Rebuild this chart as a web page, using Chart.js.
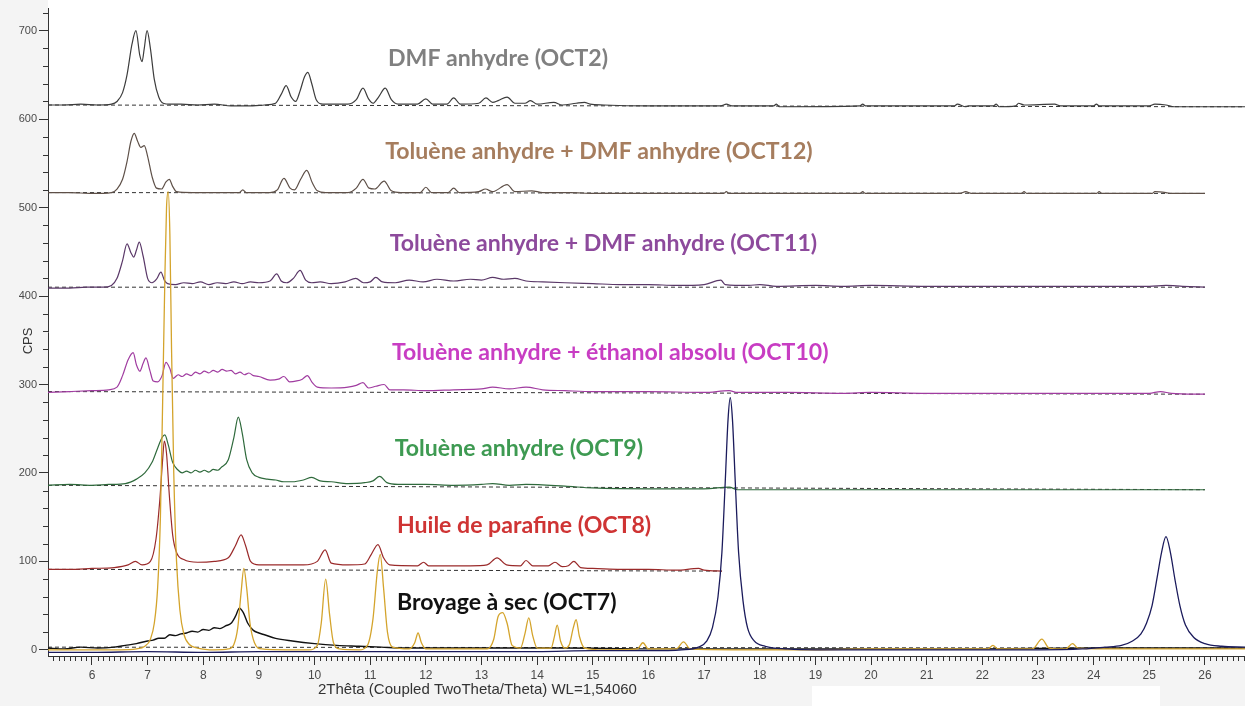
<!DOCTYPE html>
<html><head><meta charset="utf-8">
<script src="https://cdn.jsdelivr.net/npm/chart.js@4.4.1/dist/chart.umd.min.js"></script>
<style>html,body{margin:0;padding:0;background:#f4f4f4;overflow:hidden}#wrap{width:1245px;height:706px;position:relative}</style>
</head><body><div id="wrap"><canvas id="c" width="1245" height="706"></canvas></div>
<script>
// ---------- DATA (2Theta, CPS) ----------
const seriesNames = ["DMF anhydre (OCT2)","Toluène anhydre + DMF anhydre (OCT12)","Toluène anhydre + DMF anhydre (OCT11)","Toluène anhydre + éthanol absolu (OCT10)","Toluène anhydre (OCT9)","Huile de parafine (OCT8)","Broyage à sec (OCT7)"];

const oct2 = [[5.21,616],[5.5,616],[5.8,617],[6.1,616],[6.35,617],[6.45,620],[6.55,630],[6.63,650],[6.72,685],[6.79,700],[6.86,672],[6.9,665],[6.94,680],[6.99,700],[7.05,680],[7.12,645],[7.2,625],[7.28,618],[7.4,617],[7.6,617],[7.9,616],[8.2,617],[8.5,615],[8.8,615],[9.1,616],[9.3,618],[9.4,628],[9.49,638],[9.58,625],[9.66,620],[9.74,632],[9.82,648],[9.88,653],[9.95,640],[10.03,622],[10.15,617],[10.6,617],[10.75,622],[10.87,635],[10.97,623],[11.05,618],[11.15,625],[11.27,635],[11.38,622],[11.5,617],[11.85,617],[12.0,623],[12.12,617],[12.38,617],[12.5,624],[12.62,617],[12.95,618],[13.08,624],[13.2,619],[13.3,621],[13.46,625],[13.6,618],[13.78,618],[13.88,621],[14.0,617],[14.3,619],[14.45,616],[14.7,618],[14.85,619],[14.95,617],[15.2,616],[16.0,615],[17.3,615],[17.4,617],[17.5,615],[18.25,615],[18.3,617],[18.35,614],[19.8,615],[19.85,617],[19.9,615],[21.5,615],[21.55,617],[21.7,614],[21.75,615],[22.2,615],[22.25,617],[22.3,614],[22.6,615],[22.65,618],[22.75,616],[23.3,617],[23.4,615],[24.0,615],[24.05,617],[24.1,615],[25.0,615],[25.1,617],[25.3,616],[25.45,614],[26.0,614],[26.72,614]];

const oct12 = [[5.21,517],[5.6,517],[6.0,516],[6.35,517],[6.45,521],[6.55,532],[6.63,552],[6.7,575],[6.76,584],[6.82,575],[6.88,568],[6.94,570],[7.0,558],[7.08,535],[7.16,522],[7.25,521],[7.33,529],[7.39,532],[7.45,524],[7.52,518],[7.8,517],[8.3,517],[8.65,517],[8.71,520],[8.77,517],[9.2,517],[9.33,520],[9.45,533],[9.56,522],[9.64,520],[9.75,532],[9.86,542],[9.96,528],[10.05,519],[10.2,517],[10.6,517],[10.75,522],[10.87,532],[10.98,522],[11.08,521],[11.25,530],[11.38,519],[11.55,517],[11.9,517],[12.0,523],[12.1,517],[12.4,517],[12.5,522],[12.6,517],[12.95,518],[13.07,521],[13.2,518],[13.46,526],[13.6,518],[13.9,519],[14.1,517],[14.6,517],[15.0,516],[17.35,516],[17.4,518],[17.45,516],[19.8,516],[19.85,518],[19.9,516],[21.6,516],[21.7,518],[21.8,516],[22.7,516],[22.75,518],[22.8,516],[24.05,516],[24.1,518],[24.15,516],[25.05,516],[25.1,518],[25.3,517],[25.4,516],[26.0,516]];

const oct11 = [[5.21,409],[5.6,409],[5.9,410],[6.2,410],[6.35,412],[6.45,420],[6.55,440],[6.63,459],[6.7,449],[6.75,444],[6.8,452],[6.85,461],[6.92,445],[7.0,420],[7.08,415],[7.16,419],[7.24,427],[7.3,418],[7.36,414],[7.5,413],[7.65,415],[7.8,414],[7.95,416],[8.1,413],[8.25,415],[8.4,414],[8.55,416],[8.7,414],[8.85,416],[9.0,415],[9.2,417],[9.32,425],[9.4,417],[9.5,415],[9.62,420],[9.74,429],[9.84,418],[9.95,415],[10.1,416],[10.3,414],[10.55,416],[10.74,420],[10.88,415],[11.0,416],[11.1,421],[11.22,416],[11.45,415],[11.7,418],[11.95,416],[12.2,419],[12.5,417],[12.8,419],[13.0,418],[13.2,421],[13.4,419],[13.6,420],[13.8,417],[14.1,416],[14.5,415],[15.0,414],[15.5,413],[16.0,413],[16.5,412],[17.0,413],[17.3,418],[17.38,413],[17.8,412],[18.0,413],[18.3,411],[19.0,412],[19.5,411],[20.0,412],[21.0,411],[22.0,411],[23.0,411],[24.0,411],[25.0,411],[25.3,412],[25.6,411],[26.0,410]];

const oct10 = [[5.21,291],[5.6,292],[6.0,293],[6.3,294],[6.45,297],[6.55,310],[6.65,328],[6.74,336],[6.8,322],[6.86,315],[6.92,324],[6.97,330],[7.04,316],[7.1,304],[7.18,303],[7.26,310],[7.33,325],[7.4,318],[7.46,307],[7.55,311],[7.62,309],[7.7,312],[7.78,310],[7.86,314],[7.94,312],[8.02,315],[8.1,313],[8.18,316],[8.26,314],[8.34,317],[8.42,315],[8.5,316],[8.58,312],[8.66,314],[8.74,311],[8.82,313],[8.9,310],[9.0,309],[9.2,305],[9.35,306],[9.45,309],[9.55,303],[9.68,304],[9.78,306],[9.87,310],[9.96,302],[10.05,297],[10.3,296],[10.6,297],[10.75,299],[10.87,302],[10.97,296],[11.1,298],[11.25,300],[11.35,294],[11.6,294],[12.0,293],[12.5,294],[13.0,295],[13.2,297],[13.5,295],[13.8,297],[14.1,294],[14.5,293],[15.0,292],[16.0,292],[17.0,291],[17.45,293],[17.6,291],[18.5,291],[19.5,290],[20.0,291],[21.0,290],[22.0,290],[23.0,290],[24.0,290],[25.0,290],[25.2,292],[25.4,290],[26.0,289]];

const oct9 = [[5.21,186],[5.6,187],[6.0,186],[6.3,187],[6.6,188],[6.8,193],[6.95,200],[7.08,212],[7.18,228],[7.26,240],[7.31,243],[7.37,232],[7.45,212],[7.55,203],[7.62,200],[7.7,202],[7.78,200],[7.86,203],[7.94,201],[8.02,203],[8.1,201],[8.18,204],[8.26,203],[8.32,206],[8.45,215],[8.55,240],[8.63,263],[8.7,245],[8.78,215],[8.88,200],[9.0,195],[9.15,193],[9.3,192],[9.45,190],[9.6,190],[9.8,192],[9.95,195],[10.1,191],[10.3,190],[10.6,188],[10.9,189],[11.05,191],[11.17,196],[11.3,189],[11.5,187],[12.0,187],[12.5,186],[13.0,187],[13.2,188],[13.5,186],[13.8,187],[14.5,185],[15.0,183],[16.0,182],[17.0,182],[17.45,184],[17.6,181],[19.0,181],[20.0,181],[21.0,181],[22.0,181],[23.0,181],[25.0,181],[26.0,181]];

const oct8 = [[5.21,91],[5.6,91],[6.0,92],[6.4,93],[6.65,96],[6.78,100],[6.9,96],[7.05,100],[7.15,125],[7.22,170],[7.27,215],[7.3,236],[7.34,222],[7.39,175],[7.45,130],[7.52,110],[7.65,102],[7.9,99],[8.2,100],[8.45,104],[8.58,118],[8.68,130],[8.76,118],[8.85,100],[9.0,96],[9.4,96],[9.8,96],[10.05,100],[10.19,113],[10.3,98],[10.6,96],[10.9,97],[11.02,108],[11.14,119],[11.24,104],[11.35,96],[11.85,95],[11.96,99],[12.05,95],[12.8,95],[13.1,96],[13.28,104],[13.45,96],[13.7,95],[13.8,101],[13.92,95],[14.2,95],[14.32,99],[14.45,94],[14.56,95],[14.66,100],[14.78,93],[15.0,92],[15.5,91],[16.0,91],[16.5,90],[16.9,92],[17.0,90],[17.32,89]];

const oct7 = [[5.21,2],[5.5,1],[5.8,3],[6.1,2],[6.4,3],[6.6,5],[6.8,7],[7.0,10],[7.1,11],[7.2,13],[7.3,13],[7.4,17],[7.5,16],[7.6,18],[7.7,19],[7.8,21],[7.9,20],[8.0,23],[8.1,22],[8.2,25],[8.3,24],[8.4,27],[8.5,30],[8.58,38],[8.65,47],[8.72,42],[8.8,30],[8.9,22],[9.0,19],[9.1,17],[9.3,13],[9.6,10],[10.0,7],[10.4,5],[10.8,4],[11.2,3],[11.6,2],[12.5,2],[13.5,2],[14.5,2],[16.0,1],[18.0,1],[20.0,1],[22.0,1],[24.0,2],[26.0,2],[26.72,2]];

const refGold = [[5.21,0],[6.0,0],[6.5,0],[6.8,1],[6.95,4],[7.05,12],[7.12,30],[7.18,70],[7.23,150],[7.27,280],[7.31,420],[7.34,500],[7.37,518],[7.4,470],[7.43,340],[7.47,200],[7.52,100],[7.58,45],[7.65,18],[7.75,6],[7.9,2],[8.2,0],[8.45,1],[8.55,6],[8.62,25],[8.68,65],[8.73,92],[8.78,70],[8.84,30],[8.92,8],[9.05,1],[9.5,0],[9.9,0],[10.05,5],[10.12,30],[10.2,80],[10.27,40],[10.34,8],[10.45,1],[10.8,0],[10.95,5],[11.05,35],[11.13,90],[11.18,108],[11.24,70],[11.31,20],[11.4,3],[11.7,1],[11.8,8],[11.86,19],[11.92,8],[12.0,1],[13.1,1],[13.22,12],[13.3,38],[13.38,42],[13.46,30],[13.55,5],[13.7,2],[13.78,18],[13.85,36],[13.92,16],[14.0,2],[14.25,2],[14.31,15],[14.36,28],[14.42,10],[14.5,2],[14.58,6],[14.65,25],[14.7,34],[14.76,15],[14.85,2],[15.2,0],[15.8,1],[15.9,8],[16.0,1],[16.5,1],[16.63,9],[16.75,1],[17.5,0],[19.0,0],[20.0,1],[22.1,1],[22.19,5],[22.28,1],[22.9,1],[23.07,12],[23.2,2],[23.5,1],[23.62,7],[23.72,2],[24.5,1],[26.72,1]];

const refNavy = [[5.21,-3],[6.0,-3],[7.0,-2],[8.0,-3],[9.0,-2],[10.0,-2],[12.0,-2],[14.0,-2],[15.0,-1],[16.0,-1],[16.6,0],[16.9,3],[17.05,10],[17.15,25],[17.25,60],[17.32,110],[17.38,190],[17.43,260],[17.47,285],[17.51,260],[17.56,190],[17.62,110],[17.7,55],[17.78,25],[17.9,10],[18.1,4],[18.5,1],[19.0,0],[20.0,0],[21.0,0],[22.0,0],[23.0,0],[23.8,1],[24.2,3],[24.5,5],[24.7,10],[24.85,18],[24.95,30],[25.05,50],[25.15,85],[25.22,110],[25.3,128],[25.38,110],[25.46,80],[25.55,50],[25.65,28],[25.8,14],[26.0,7],[26.3,4],[26.72,3]];

// background (dashed) baselines: start level, end level, end 2Theta
const baseStart = [616,517,410,292,186,91,3];
const baseEnd   = [614,516,410,289,181,89,2];
const baseEndX  = [26.72,26.0,26.0,26.0,26.0,17.32,26.72];

// ---------- STYLE ----------
const lineColors  = ['#3c3c3c','#5e5048','#5a3868','#a03ca0','#2f6a3c','#9a2a2a','#111111'];
const labelColors = ['#808080','#a67d5e','#8d4a9c','#c83dc3','#3e9a52','#cf3434','#111111'];
const labelPos = [[11.32,668],[11.27,563],[11.35,459],[11.39,336],[11.44,228],[11.48,140],[11.48,54]];
const X_MIN = 5.21, X_MAX = 26.72, Y_MIN = -7, Y_MAX = 725;

const toXY = a => a.map(p => ({x:p[0], y:p[1]}));
const seriesData = [oct2, oct12, oct11, oct10, oct9, oct8, oct7];

const datasets = [];
datasets.push({label:'ref-navy', data:toXY(refNavy), borderColor:'#1b1b5c', borderWidth:1.3});
datasets.push({label:'ref-gold', data:toXY(refGold), borderColor:'#d4a42c', borderWidth:1.3});
seriesData.forEach((s,i) => datasets.push({label:seriesNames[i], data:toXY(s), borderColor:lineColors[i], borderWidth:(i===6?1.4:1.2)}));
baseStart.forEach((b,i) => datasets.push({label:'bg'+i, data:[{x:X_MIN,y:b},{x:baseEndX[i],y:baseEnd[i]}], borderColor:'#333', borderWidth:1, borderDash:[4,3]}));

const deco = {
  id:'deco',
  beforeDraw(chart){
    const {ctx, chartArea:a} = chart;
    ctx.save();
    ctx.fillStyle = '#f4f4f4'; ctx.fillRect(0,0,chart.width,chart.height);
    ctx.fillStyle = '#ffffff'; ctx.fillRect(a.left,0,chart.width-a.left,a.bottom);
    ctx.fillRect(812,686,348,20);
    ctx.restore();
  },
  afterDraw(chart){
    const {ctx, chartArea:a, scales:{x,y}} = chart;
    ctx.save();
    ctx.strokeStyle = '#333'; ctx.lineWidth = 1;
    ctx.beginPath();
    for (let i = Math.ceil(X_MIN*10); i <= Math.floor(X_MAX*10); i++) {
      if (i % 10 === 0) continue;
      const px = Math.round(x.getPixelForValue(i/10)) + 0.5;
      ctx.moveTo(px, a.bottom); ctx.lineTo(px, a.bottom + 5);
    }
    for (let v = 20; v <= Y_MAX; v += 20) {
      if (v % 100 === 0) continue;
      const py = Math.round(y.getPixelForValue(v)) + 0.5;
      ctx.moveTo(a.left - 5, py); ctx.lineTo(a.left, py);
    }
    ctx.stroke();
    // series labels
    ctx.font = 'bold 100px Lato';
    const size = 100 * 248 / ctx.measureText('Toluène anhydre (OCT9)').width;
    ctx.font = 'bold ' + size.toFixed(1) + 'px Lato';
    ctx.textBaseline = 'middle'; ctx.textAlign = 'left';
    seriesNames.forEach((n,i) => {
      ctx.fillStyle = labelColors[i];
      ctx.fillText(n, x.getPixelForValue(labelPos[i][0]), y.getPixelForValue(labelPos[i][1]));
    });
    // axis titles
    ctx.fillStyle = '#333';
    ctx.font = '15px "Liberation Sans", Arial, sans-serif';
    ctx.fillText('2Thêta (Coupled TwoTheta/Theta) WL=1,54060', 318, 690);
    ctx.save();
    ctx.translate(28, 341); ctx.rotate(-Math.PI/2);
    ctx.textAlign = 'center'; ctx.font = '13px "Liberation Sans", Arial, sans-serif';
    ctx.fillText('CPS', 0, 0);
    ctx.restore();
    ctx.restore();
  }
};

new Chart(document.getElementById('c'), {
  type:'line',
  data:{datasets},
  options:{
    responsive:false, animation:false, devicePixelRatio:1,
    layout:{padding:{top:8,left:0,right:0,bottom:0}},
    elements:{point:{radius:0}, line:{tension:0, cubicInterpolationMode:'monotone'}},
    plugins:{legend:{display:false}, tooltip:{enabled:false}},
    scales:{
      x:{type:'linear', min:X_MIN, max:X_MAX,
         afterFit(s){ s.height = 50; },
         border:{display:true,color:'#333',width:1},
         grid:{drawOnChartArea:false, drawTicks:true, tickLength:9, color:'#333'},
         ticks:{stepSize:1, includeBounds:false, autoSkip:false, maxRotation:0, padding:3, color:'#4a4a4a', font:{family:'Liberation Sans', size:12}}},
      y:{type:'linear', min:Y_MIN, max:Y_MAX,
         afterFit(s){ s.width = 48; },
         border:{display:true,color:'#333',width:1},
         grid:{drawOnChartArea:false, drawTicks:true, tickLength:9, color:'#333'},
         ticks:{stepSize:100, includeBounds:false, padding:2, color:'#4a4a4a', font:{family:'Liberation Sans', size:11}}}
    }
  },
  plugins:[deco]
});
</script></body></html>
